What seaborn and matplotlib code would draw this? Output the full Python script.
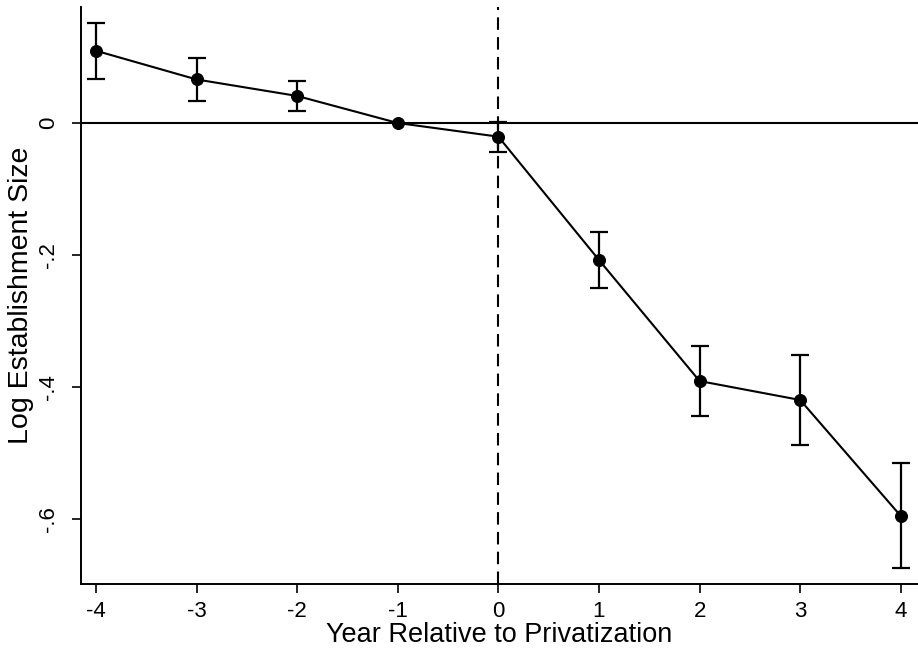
import numpy as np
import pandas as pd
import seaborn as sns
import matplotlib
matplotlib.use("Agg")
import matplotlib.pyplot as plt

# event-study estimates
years = [-4, -3, -2, -1, 0, 1, 2, 3, 4]
coef = [0.1095, 0.066, 0.041, 0.0, -0.0207, -0.2076, -0.391, -0.4197, -0.5955]
ci_hi = [0.152, 0.098, 0.0636, 0.0, 0.002, -0.1656, -0.338, -0.351, -0.5156]
ci_lo = [0.0667, 0.0338, 0.0186, 0.0, -0.0435, -0.2505, -0.444, -0.488, -0.6747]
yticks = [0, -0.2, -0.4, -0.6]
ytick_labels = ["0", "-.2", "-.4", "-.6"]

df = pd.DataFrame({"year": years, "coef": coef, "lo": ci_lo, "hi": ci_hi})

sns.set_style("ticks")
plt.rcParams["font.family"] = ["Liberation Sans", "DejaVu Sans"]
plt.rcParams["text.color"] = "black"
plt.rcParams["axes.labelcolor"] = "black"
plt.rcParams["xtick.color"] = "black"
plt.rcParams["ytick.color"] = "black"

fig = plt.figure(figsize=(9.18, 6.48), dpi=100)
ax = fig.add_axes([0.0879, 0.0988, 0.9121, 0.8904])

ax.axhline(0, color="black", lw=1.5, zorder=1)
ax.axvline(0, color="black", lw=1.5, ls=(0, (6, 3.5)), zorder=1)

# confidence intervals (the reference year -1 has none)
bars = df[df["year"] != -1]
ax.errorbar(bars["year"], bars["coef"],
            yerr=[bars["coef"] - bars["lo"], bars["hi"] - bars["coef"]],
            fmt="none", ecolor="black", elinewidth=1.6, capsize=6.7,
            capthick=1.6, zorder=2)

sns.lineplot(data=df, x="year", y="coef", color="black", lw=1.5,
             marker="o", markersize=8.6, markeredgecolor="black",
             ax=ax, zorder=3)

ax.set_xlim(-4.152, 4.171)
ax.set_ylim(-0.6985, 0.1758)
ax.set_xticks(years)
ax.set_xticklabels([str(y) for y in years])
ax.set_yticks(yticks)
ax.set_yticklabels(ytick_labels, rotation=90, va="center")

ax.tick_params(axis="both", length=6.5, width=1.2, labelsize=16, color="black",
               labelcolor="black")
ax.tick_params(axis="x", pad=6)
ax.tick_params(axis="y", pad=9)

ax.set_xlabel("Year Relative to Privatization", fontsize=19.5, labelpad=0)
ax.set_ylabel("Log Establishment Size", fontsize=20.5, labelpad=3)

for side in ["top", "right"]:
    ax.spines[side].set_visible(False)
for side in ["left", "bottom"]:
    ax.spines[side].set_linewidth(1.4)
    ax.spines[side].set_color("black")

fig.savefig("out.png", dpi=100)
